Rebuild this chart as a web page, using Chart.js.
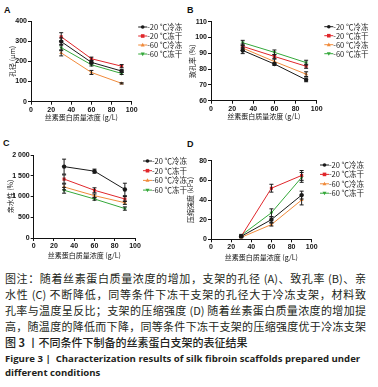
<!DOCTYPE html>
<html lang="zh">
<head>
<meta charset="UTF-8">
<title>丝素蛋白支架的表征结果</title>
<script src="https://cdn.jsdelivr.net/npm/chart.js"></script>
<style>
    body { margin: 0; background: #fff; width: 378px; height: 387px; position: relative; overflow: hidden; }
    .panel { position: absolute; }
    .letter { position: absolute; font: bold 9px "Liberation Sans", Arial, sans-serif; color: #111; }
    #caption { position: absolute; left: 5px; top: 270px; width: 361px; color: #231f20; }
    .cn { font: 11px/16px "Noto Sans CJK SC", sans-serif; text-align: justify; text-align-last: justify; white-space: nowrap; height: 16px; }
    .cn.title { text-align-last: left; font-weight: 500; }
    .en { font: bold 9.6px/14px "Open Sans", "Liberation Sans", sans-serif; white-space: nowrap; }
</style>
</head>
<body>
<div class="letter" style="left:4px;top:5px">A</div>
<div class="letter" style="left:187px;top:5px">B</div>
<div class="letter" style="left:3px;top:138px">C</div>
<div class="letter" style="left:187px;top:139px">D</div>

<div class="panel" style="left:0;top:0;width:190px;height:125px"><canvas id="chartA"></canvas></div>
<div class="panel" style="left:185px;top:0;width:193px;height:125px"><canvas id="chartB"></canvas></div>
<div class="panel" style="left:0;top:130px;width:188px;height:132px"><canvas id="chartC"></canvas></div>
<div class="panel" style="left:185px;top:130px;width:193px;height:132px"><canvas id="chartD"></canvas></div>

<div id="caption">
    <div class="cn">图注：随着丝素蛋白质量浓度的增加，支架的孔径 (A)、致孔率 (B)、亲</div>
    <div class="cn">水性 (C) 不断降低，同等条件下冻干支架的孔径大于冷冻支架，材料致</div>
    <div class="cn">孔率与温度呈反比；支架的压缩强度 (D) 随着丝素蛋白质量浓度的增加提</div>
    <div class="cn">高，随温度的降低而下降，同等条件下冻干支架的压缩强度优于冷冻支架</div>
    <div class="cn title">图 <b>3</b> 丨不同条件下制备的丝素蛋白支架的表征结果</div>
    <div class="en" style="margin-top:2px">Figure 3 | &nbsp;Characterization results of silk fibroin scaffolds prepared under</div>
    <div class="en">different conditions</div>
</div>

<script>
'use strict';
// x values (g/L) and groups
var concentration = [30, 60, 90];
var groupLabels = ['-20 ℃冷冻', '-20 ℃冻干', '-60 ℃冷冻', '-60 ℃冻干'];
var xTicks = [0, 20, 40, 60, 80, 100];

// A: pore size (μm)
var poreSizeMean = [[298, 195, 152], [322, 213, 176], [242, 145, 91], [268, 183, 140]];
var poreSizeErr  = [[18, 8, 6], [20, 8, 8], [15, 10, 3], [15, 6, 5]];
// B: porosity (%)
var porosityMean = [[91.8, 83.2, 73.2], [94.4, 88.0, 81.8], [93.3, 84.8, 76.8], [96.7, 90.6, 84.1]];
var porosityErr  = [[2, 0.8, 1.2], [1.5, 1.2, 1.3], [1.5, 1.5, 1.5], [1.5, 1.5, 1.5]];
// C: hydrophilicity (%)
var hydroMean = [[1720, 1610, 1170], [1420, 1150, 940], [1230, 1020, 850], [1150, 940, 710]];
var hydroErr  = [[180, 50, 150], [100, 60, 60], [70, 40, 40], [70, 30, 40]];
// D: compressive strength (kPa)
var strengthMean = [[3, 20, 45], [3, 52, 65], [2, 15, 40], [4, 27, 63]];
var strengthErr  = [[1, 3, 4], [1, 4, 5], [0.5, 1.5, 5], [1, 4, 5]];

var groupColors = ['#1a1a1a', '#e0262b', '#f08a3a', '#34a83a'];
var pointStyles = ['circle', 'rect', 'triangle', 'triangle'];
var pointRotations = [0, 0, 0, 180];

var tickFont = { family: '"Liberation Sans", Arial, sans-serif', size: 7, weight: 'bold' };
var titleFont = { family: '"Noto Sans CJK SC", sans-serif', size: 7 };

function drawMarker(ctx, style, rot, x, y, r, color) {
    ctx.save();
    ctx.fillStyle = color;
    ctx.translate(x, y);
    ctx.rotate(rot * Math.PI / 180);
    ctx.beginPath();
    if (style === 'circle') {
        ctx.arc(0, 0, r, 0, Math.PI * 2);
    } else if (style === 'rect') {
        ctx.rect(-r, -r, r * 2, r * 2);
    } else {
        ctx.moveTo(0, -r * 1.2);
        ctx.lineTo(r * 1.1, r * 0.8);
        ctx.lineTo(-r * 1.1, r * 0.8);
        ctx.closePath();
    }
    ctx.fill();
    ctx.restore();
}

// vertical error bars with caps
var errorBars = {
    id: 'errorBars',
    afterDatasetsDraw: function(chart) {
        var ctx = chart.ctx;
        var xs = chart.scales.x, ys = chart.scales.y;
        ctx.save();
        ctx.lineWidth = 1;
        chart.data.datasets.forEach(function(ds) {
            ctx.strokeStyle = '#1a1a1a';
            ds.data.forEach(function(p, j) {
                var e = ds.err[j];
                var x = xs.getPixelForValue(p.x);
                var t = ys.getPixelForValue(p.y + e);
                var b = ys.getPixelForValue(p.y - e);
                ctx.beginPath();
                ctx.moveTo(x, t); ctx.lineTo(x, b);
                ctx.moveTo(x - 2, t); ctx.lineTo(x + 2, t);
                ctx.moveTo(x - 2, b); ctx.lineTo(x + 2, b);
                ctx.stroke();
            });
        });
        ctx.restore();
    }
};

// legend on the right: short line + marker + label
var sideLegend = {
    id: 'sideLegend',
    afterDraw: function(chart, args, opts) {
        var ctx = chart.ctx;
        var x0 = chart.chartArea.right + opts.dx;
        var y0 = chart.chartArea.top + opts.dy;
        ctx.save();
        chart.data.datasets.forEach(function(ds, i) {
            var y = y0 + i * opts.gap;
            ctx.strokeStyle = ds.borderColor;
            ctx.lineWidth = 1;
            ctx.beginPath();
            ctx.moveTo(x0, y); ctx.lineTo(x0 + 9, y);
            ctx.stroke();
            drawMarker(ctx, ds.pointStyle, ds.pointRotation, x0 + 4.5, y, 1.8, ds.borderColor);
            ctx.fillStyle = '#1a1a1a';
            ctx.font = '7.5px "Noto Sans CJK SC", sans-serif';
            ctx.textBaseline = 'middle';
            ctx.fillText(ds.label, x0 + 9, y);
        });
        ctx.restore();
    }
};

function fmtThousands(v) {
    return v >= 1000 ? String(v).replace(/(\d)(\d{3})$/, '$1 $2') : String(v);
}

function makeChart(id, means, errs, y, box) {
    var datasets = means.map(function(m, i) {
        return {
            label: groupLabels[i],
            data: concentration.map(function(c, j) { return { x: c, y: m[j] }; }),
            err: errs[i],
            borderColor: groupColors[i],
            backgroundColor: groupColors[i],
            pointStyle: pointStyles[i],
            pointRotation: pointRotations[i],
            pointRadius: 2.2,
            pointBorderWidth: 0,
            borderWidth: 1,
            tension: 0
        };
    });
    return new Chart(document.getElementById(id), {
        type: 'line',
        data: { datasets: datasets },
        options: {
            responsive: true,
            maintainAspectRatio: false,
            animation: false,
            events: [],
            layout: { padding: { left: box.left, top: box.top, right: box.right, bottom: box.bottom } },
            scales: {
                x: {
                    type: 'linear', min: 0, max: 100,
                    afterBuildTicks: function(ax) { ax.ticks = xTicks.map(function(v) { return { value: v }; }); },
                    afterFit: function(ax) { ax.height = box.xh; },
                    border: { color: '#111', width: 1 },
                    grid: { drawOnChartArea: false, color: '#111', tickLength: 3 },
                    ticks: { font: tickFont, color: '#111', padding: 1, maxRotation: 0 },
                    title: { display: true, text: '丝素蛋白质量浓度 (g/L)', font: titleFont, color: '#111', padding: 0 }
                },
                y: {
                    min: y.min, max: y.max,
                    afterBuildTicks: function(ax) { ax.ticks = y.ticks.map(function(v) { return { value: v }; }); },
                    afterFit: function(ax) { ax.width = box.yw; },
                    border: { color: '#111', width: 1 },
                    grid: { drawOnChartArea: false, color: '#111', tickLength: 3 },
                    ticks: { font: tickFont, color: '#111', padding: 1, callback: fmtThousands },
                    title: { display: true, text: y.title, font: titleFont, color: '#111', padding: 0 }
                }
            },
            plugins: {
                legend: { display: false },
                tooltip: { enabled: false },
                sideLegend: { dx: box.ldx, dy: box.ldy, gap: box.gap }
            }
        },
        plugins: [errorBars, sideLegend]
    });
}

makeChart('chartA', poreSizeMean, poreSizeErr,
    { min: 0, max: 400, ticks: [0, 100, 200, 300, 400], title: '孔径 (μm)' },
    { left: 8, top: 21, right: 58.3, bottom: 3.3, yw: 23, xh: 20, ldx: 6.5, ldy: 6, gap: 9 });
makeChart('chartB', porosityMean, porosityErr,
    { min: 60, max: 110, ticks: [60, 70, 80, 90, 100, 110], title: '致孔率 (%)' },
    { left: 3, top: 21.7, right: 61.3, bottom: 4.3, yw: 23, xh: 20, ldx: 7.6, ldy: 5, gap: 9 });
makeChart('chartC', hydroMean, hydroErr,
    { min: 0, max: 2000, ticks: [0, 500, 1000, 1500, 2000], title: '亲水性 (%)' },
    { left: 6, top: 25, right: 53, bottom: 2, yw: 27.7, xh: 22, ldx: 8, ldy: 6, gap: 9.7 });
makeChart('chartD', strengthMean, strengthErr,
    { min: 0, max: 80, ticks: [0, 20, 40, 60, 80], title: '压缩强度 (kPa)' },
    { left: 1.5, top: 30.7, right: 66.3, bottom: 0.7, yw: 24.5, xh: 22, ldx: 8.3, ldy: 4.3, gap: 9.4 });
</script>
</body>
</html>
